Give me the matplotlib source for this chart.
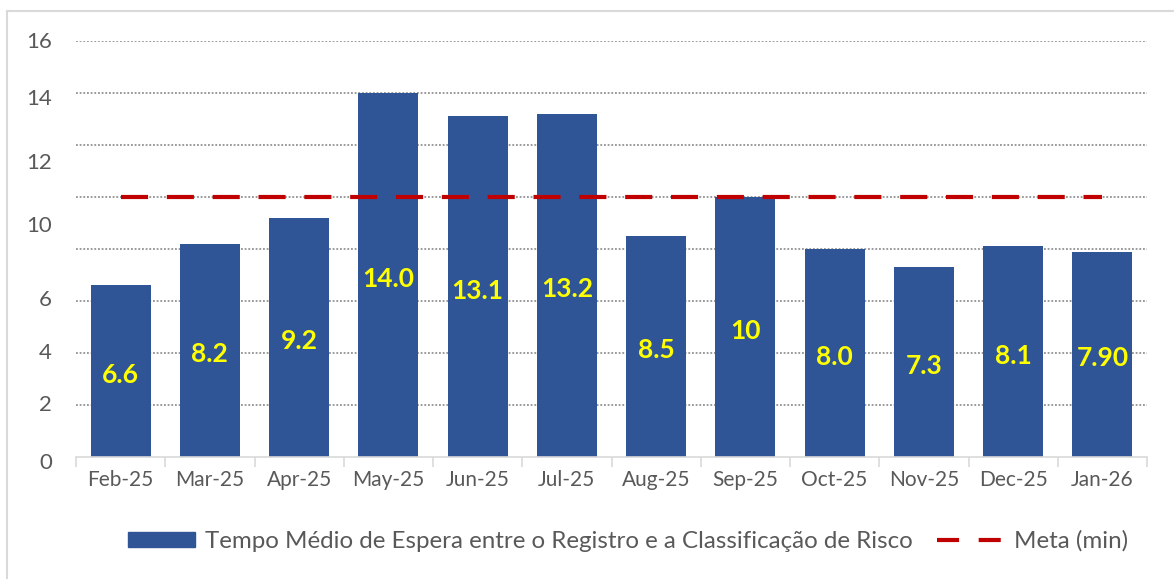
import matplotlib
matplotlib.use("Agg")
import matplotlib.pyplot as plt
import numpy as np
from matplotlib.lines import Line2D
from matplotlib.patches import Patch

months = ["Feb-25", "Mar-25", "Apr-25", "May-25", "Jun-25", "Jul-25",
          "Aug-25", "Sep-25", "Oct-25", "Nov-25", "Dec-25", "Jan-26"]
tempo = [6.6, 8.2, 9.2, 14.0, 13.1, 13.2, 8.5, 10.0, 8.0, 7.3, 8.1, 7.9]
tempo_labels = ["6.6", "8.2", "9.2", "14.0", "13.1", "13.2", "8.5", "10",
                "8.0", "7.3", "8.1", "7.90"]
meta = [10] * 12
ytick_text = ["0", "2", "4", "6", "10", "12", "14", "16"]
# vertical placement (data units) of the y labels as they appear in the picture
ytick_pos = [-0.23, 2.0, 4.0, 6.04, 8.88, 11.31, 13.77, 15.96]

W, H = 1174, 579
fig = plt.figure(figsize=(W / 100, H / 100), dpi=100)
plt.rcParams['font.family'] = ['Lato', 'DejaVu Sans']

ax = fig.add_axes([76 / W, 1 - 457 / H, (1147 - 76) / W, (457 - 41) / H])
x = np.arange(len(months))
ax.bar(x, tempo, width=0.67, color="#2F5597", zorder=2)
ax.plot(x, meta, color="#C00000", lw=3.0, dashes=(6.5, 4.5), zorder=3,
        solid_capstyle="butt", dash_capstyle="butt")

for xi, v, lab in zip(x, tempo, tempo_labels):
    ax.text(xi, v / 2 - 0.15, lab, ha="center", va="center", color="#FFFF00",
            fontsize=19, fontweight="bold")

ax.set_xlim(-0.5, len(months) - 0.5)
ax.set_ylim(0, 16)
for gy in np.arange(2, 17, 2):
    ax.axhline(gy, color="#808080", lw=1.1, ls=(0, (1.2, 1.2)), zorder=1)

ax.set_yticks([])
ylab_x = -24 / (1147 - 76)
for p, t in zip(ytick_pos, ytick_text):
    ax.text(ylab_x, p, t, transform=ax.get_yaxis_transform(), ha="right",
            va="center", fontsize=16, color="#595959")

ax.set_xticks(x)
ax.set_xticklabels(months, fontsize=15, color="#595959")
ax.tick_params(axis="x", length=0, pad=9)
ax.set_xticks(np.arange(-0.5, len(months), 1), minor=True)
ax.tick_params(axis="x", which="minor", length=7, color="#D9D9D9", width=1.2)
for s in ["top", "right", "left"]:
    ax.spines[s].set_visible(False)
ax.spines["bottom"].set_color("#D9D9D9")
ax.spines["bottom"].set_linewidth(1.2)

handles = [Patch(color="#2F5597"),
           Line2D([0], [0], color="#C00000", lw=3.0, dashes=(5.3, 4.7))]
labels = ["Tempo Médio de Espera entre o Registro e a Classificação de Risco",
          "Meta (min)"]
fig.legend(handles, labels, loc="center", bbox_to_anchor=(628 / W, 1 - 541 / H),
           ncol=2, frameon=False, fontsize=17.4, handlelength=2.8, handleheight=0.6,
           columnspacing=1.0, handletextpad=0.4, labelcolor="#595959")

# partial frame (top and left)
fig.add_artist(Line2D([7 / W, 7 / W], [0, 1 - 11 / H], transform=fig.transFigure,
                      color="#D9D9D9", lw=1.5))
fig.add_artist(Line2D([7 / W, 1], [1 - 11 / H, 1 - 11 / H], transform=fig.transFigure,
                      color="#D9D9D9", lw=1.5))

fig.savefig("out.png", dpi=100)
